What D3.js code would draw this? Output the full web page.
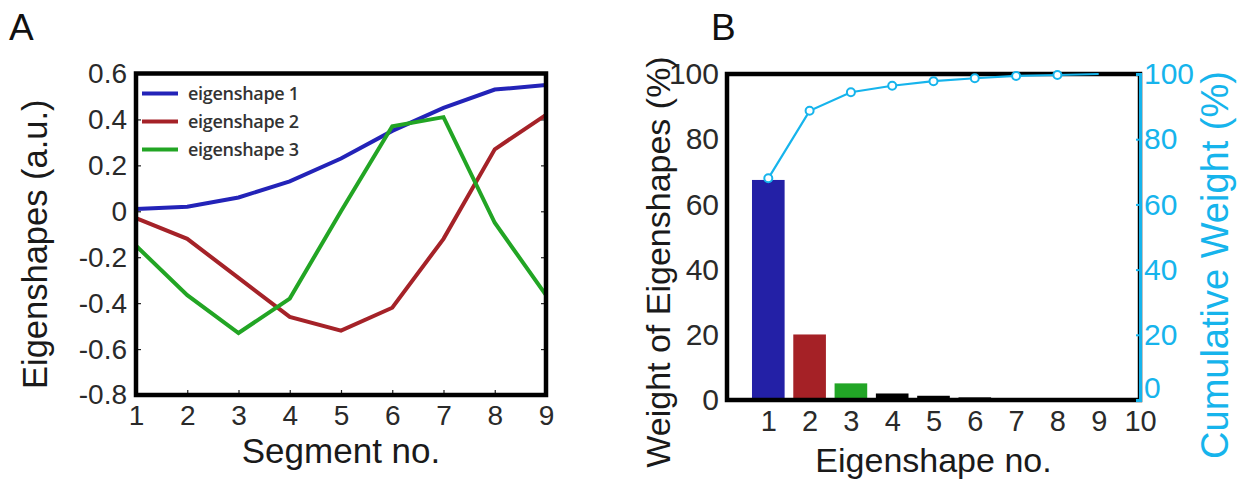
<!DOCTYPE html>
<html><head><meta charset="utf-8">
<script src="https://cdn.jsdelivr.net/npm/d3@7"></script>
<style>
body{margin:0;background:#fff;}
svg{display:block;font-family:"Liberation Sans",Arial,sans-serif;}
</style></head>
<body><svg id="c" width="1238" height="482"></svg>
<script>
// ---- Data ----
const segments = [1,2,3,4,5,6,7,8,9];
const eigenshape1 = [0.01,0.02,0.06,0.13,0.23,0.35,0.45,0.53,0.55];
const eigenshape2 = [-0.03,-0.12,-0.29,-0.46,-0.52,-0.42,-0.12,0.27,0.42];
const eigenshape3 = [-0.15,-0.365,-0.53,-0.38,0.0,0.37,0.41,-0.05,-0.365];
const seriesNames = ["eigenshape 1","eigenshape 2","eigenshape 3"];
const yTicksA = [0.6,0.4,0.2,0,-0.2,-0.4,-0.6,-0.8];
const yTickLabelsA = ["0.6","0.4","0.2","0","-0.2","-0.4","-0.6","-0.8"];

const eigenNo = [1,2,3,4,5,6,7,8,9];
const weights = [67.5,20.1,5.1,2.0,1.3,0.8,0.6,0.5,0.4];
const cumulative = [68.0,88.7,94.4,96.4,97.8,98.7,99.4,99.7,100];
const xTicksB = [1,2,3,4,5,6,7,8,9,10];
const yTicksB = [0,20,40,60,80,100];

const lineColors = ["#2323b8","#a52228","#22a524"];
const barColors = ["#2320a6","#a52126","#22a526","#000","#000","#000","#000","#000","#000"];
const cyan = "#16b4ec";

const svg = d3.select("#c");

// ================= Panel A =================
const A = {l:136,r:546,t:73.5,b:395};
const xA = d3.scaleLinear().domain([1,9]).range([A.l,A.r]);
const yA = d3.scaleLinear().domain([-0.8,0.6]).range([A.b,A.t]);

svg.append("text").attr("x",9).attr("y",40).attr("font-size",37).attr("fill","#111").text("A");

// inward ticks
const gA = svg.append("g");
gA.append("g").attr("transform",`translate(${A.l},0)`)
  .call(d3.axisRight(yA).tickValues(yTicksA).tickSize(5).tickFormat(""))
  .call(g=>g.select(".domain").remove());
gA.append("g").attr("transform",`translate(${A.r},0)`)
  .call(d3.axisLeft(yA).tickValues(yTicksA).tickSize(5).tickFormat(""))
  .call(g=>g.select(".domain").remove());
gA.append("g").attr("transform",`translate(0,${A.b})`)
  .call(d3.axisTop(xA).tickValues(segments).tickSize(5).tickFormat(""))
  .call(g=>g.select(".domain").remove());
gA.selectAll(".tick line").attr("stroke","#222").attr("stroke-width",1.2);

// tick labels
const yAxA = svg.append("g").attr("transform",`translate(${A.l},0)`)
  .call(d3.axisLeft(yA).tickValues(yTicksA).tickSize(0).tickPadding(9)
    .tickFormat((d,i)=>yTickLabelsA[i]));
yAxA.select(".domain").remove();
yAxA.selectAll("text").attr("font-size",28).attr("fill","#2a2a2a").attr("font-family","Liberation Sans, Arial, sans-serif");

const xAxA = svg.append("g").attr("transform",`translate(0,${A.b})`)
  .call(d3.axisBottom(xA).tickValues(segments).tickSize(0).tickPadding(10).tickFormat(d3.format("d")));
xAxA.select(".domain").remove();
xAxA.selectAll("text").attr("font-size",28).attr("fill","#2a2a2a").attr("font-family","Liberation Sans, Arial, sans-serif");

svg.append("text").attr("x",(A.l+A.r)/2).attr("y",463).attr("text-anchor","middle")
  .attr("font-size",35).attr("fill","#1a1a1a").text("Segment no.");
svg.append("text").attr("transform",`translate(47,${(A.t+A.b)/2+10}) rotate(-90)`)
  .attr("text-anchor","middle").attr("font-size",34.5).attr("fill","#1a1a1a").text("Eigenshapes (a.u.)");

// lines
const lineA = d3.line().x((d,i)=>xA(segments[i])).y(d=>yA(d));
[eigenshape1,eigenshape2,eigenshape3].forEach((s,k)=>{
  svg.append("path").datum(s).attr("d",lineA).attr("fill","none")
    .attr("stroke",lineColors[k]).attr("stroke-width",4).attr("stroke-linejoin","miter");
});

// legend
seriesNames.forEach((n,k)=>{
  const y = 93.5 + k*28;
  svg.append("line").attr("x1",142).attr("x2",178).attr("y1",y).attr("y2",y)
    .attr("stroke",lineColors[k]).attr("stroke-width",4);
  svg.append("text").attr("x",188).attr("y",y+6).attr("font-size",18)
    .attr("font-family","Open Sans, sans-serif").attr("font-weight",600)
    .attr("fill","#333").attr("letter-spacing",-0.3).text(n);
});

svg.append("rect").attr("x",A.l).attr("y",A.t).attr("width",A.r-A.l).attr("height",A.b-A.t)
  .attr("fill","none").attr("stroke","#000").attr("stroke-width",4.5);

// ================= Panel B =================
const B = {l:727,r:1140,t:74,b:400};
const xB = d3.scaleLinear().domain([0,10]).range([B.l,B.r]);
const yB = d3.scaleLinear().domain([0,100]).range([B.b,B.t]);
const yB2 = d3.scaleLinear().domain([0,100]).range([B.b,B.t]);
const bw = (xB(1)-xB(0))*0.79;

svg.append("text").attr("x",711).attr("y",40).attr("font-size",37).attr("fill","#111").text("B");

svg.selectAll(".bar").data(weights).enter().append("rect")
  .attr("x",(d,i)=>xB(eigenNo[i])-bw/2).attr("width",bw)
  .attr("y",d=>yB(d)).attr("height",d=>yB(0)-yB(d))
  .attr("fill",(d,i)=>barColors[i]);

const yAxB = svg.append("g").attr("transform",`translate(${B.l},0)`)
  .call(d3.axisLeft(yB).tickValues(yTicksB).tickSize(0).tickPadding(8));
yAxB.select(".domain").remove();
yAxB.selectAll("text").attr("font-size",30).attr("fill","#2a2a2a").attr("font-family","Liberation Sans, Arial, sans-serif");

const xAxB = svg.append("g").attr("transform",`translate(0,${B.b})`)
  .call(d3.axisBottom(xB).tickValues(xTicksB).tickSize(0).tickPadding(10));
xAxB.select(".domain").remove();
xAxB.selectAll("text").attr("font-size",29).attr("fill","#2a2a2a").attr("font-family","Liberation Sans, Arial, sans-serif");

svg.append("text").attr("x",(B.l+B.r)/2).attr("y",472).attr("text-anchor","middle")
  .attr("font-size",34).attr("fill","#1a1a1a").text("Eigenshape no.");
svg.append("text").attr("transform",`translate(670,262) rotate(-90)`)
  .attr("text-anchor","middle").attr("font-size",34).attr("fill","#1a1a1a").text("Weight of Eigenshapes (%)");

// frame
svg.append("rect").attr("x",B.l).attr("y",B.t).attr("width",B.r-B.l).attr("height",B.b-B.t)
  .attr("fill","none").attr("stroke","#000").attr("stroke-width",4.5);

// right axis cyan
const yAxB2 = svg.append("g").attr("transform",`translate(${B.r},0)`)
  .call(d3.axisRight(yB2).tickValues(yTicksB).tickSize(-4).tickPadding(4));
yAxB2.select(".domain").attr("stroke",cyan).attr("stroke-width",3);
yAxB2.selectAll(".tick line").attr("stroke",cyan).attr("stroke-width",2);
yAxB2.selectAll("text").attr("font-size",30).attr("fill",cyan).attr("font-family","Liberation Sans, Arial, sans-serif");
yAxB2.selectAll(".tick").filter(d=>d===0).select("text").attr("dy","-0.1em");

svg.append("text").attr("transform",`translate(1228,265) rotate(-90)`)
  .attr("text-anchor","middle").attr("font-size",38).attr("fill",cyan).text("Cumulative Weight (%)");

// cumulative line
const lineB = d3.line().x((d,i)=>xB(eigenNo[i])).y(d=>yB2(d));
svg.append("path").datum(cumulative).attr("d",lineB).attr("fill","none")
  .attr("stroke",cyan).attr("stroke-width",2.2);
svg.selectAll(".mk").data(cumulative.slice(0,8)).enter().append("circle")
  .attr("cx",(d,i)=>xB(eigenNo[i])).attr("cy",d=>yB2(d)).attr("r",4)
  .attr("fill","#fff").attr("stroke",cyan).attr("stroke-width",2);
</script></body></html>
